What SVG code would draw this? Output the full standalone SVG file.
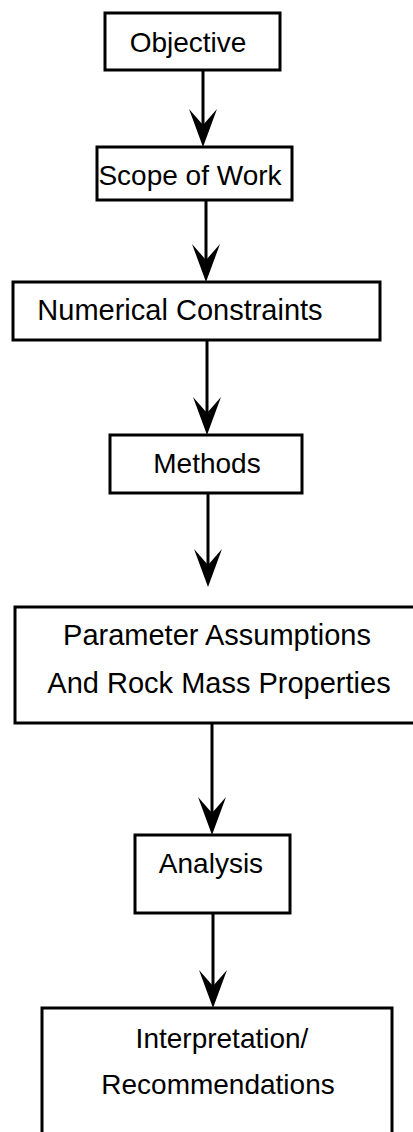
<svg xmlns="http://www.w3.org/2000/svg" width="413" height="1132" viewBox="0 0 413 1132">
<style>
.box{fill:#fff;stroke:#000;stroke-width:3}
.t{font-family:"Liberation Sans",Arial,sans-serif;font-size:28px;fill:#000;text-anchor:middle}
.c{stroke:#000;stroke-width:3;fill:none}
</style>
<defs>
<path id="ah" d="M0,0 L-14,-38 L0,-22 L14,-38 Z" fill="#000"/>
</defs>
<rect width="413" height="1132" fill="#fff"/>
<g id="connectors">
<line class="c" x1="203" y1="70" x2="203" y2="130"/><use href="#ah" x="203" y="147"/>
<line class="c" x1="206" y1="200" x2="206" y2="265"/><use href="#ah" x="206" y="282"/>
<line class="c" x1="207" y1="340" x2="207" y2="418"/><use href="#ah" x="207" y="435"/>
<line class="c" x1="208" y1="493" x2="208" y2="570"/><use href="#ah" x="208" y="587"/>
<line class="c" x1="212" y1="723" x2="212" y2="818"/><use href="#ah" x="212" y="835"/>
<line class="c" x1="213" y1="913" x2="213" y2="991"/><use href="#ah" x="213" y="1008"/>
</g>
<g id="objective"><rect class="box" x="105" y="13" width="175" height="57"/><text class="t" x="188" y="52">Objective</text></g>
<g id="scope"><rect class="box" x="97" y="147" width="195" height="53"/><text class="t" x="190" y="185">Scope of Work</text></g>
<g id="numerical"><rect class="box" x="13" y="282" width="367" height="58"/><text class="t" x="180" y="320" style="font-size:29px">Numerical Constraints</text></g>
<g id="methods"><rect class="box" x="110" y="435" width="192" height="58"/><text class="t" x="207" y="473">Methods</text></g>
<g id="parameter"><rect class="box" x="15" y="607" width="400" height="116"/><text class="t" x="217" y="645" style="font-size:29px">Parameter Assumptions</text><text class="t" x="219" y="693" style="font-size:29px">And Rock Mass Properties</text></g>
<g id="analysis"><rect class="box" x="135" y="835" width="155" height="78"/><text class="t" x="211" y="873">Analysis</text></g>
<g id="interpretation"><rect class="box" x="42" y="1008" width="350" height="140"/><text class="t" x="222" y="1048">Interpretation/</text><text class="t" x="218" y="1094">Recommendations</text></g>
</svg>
